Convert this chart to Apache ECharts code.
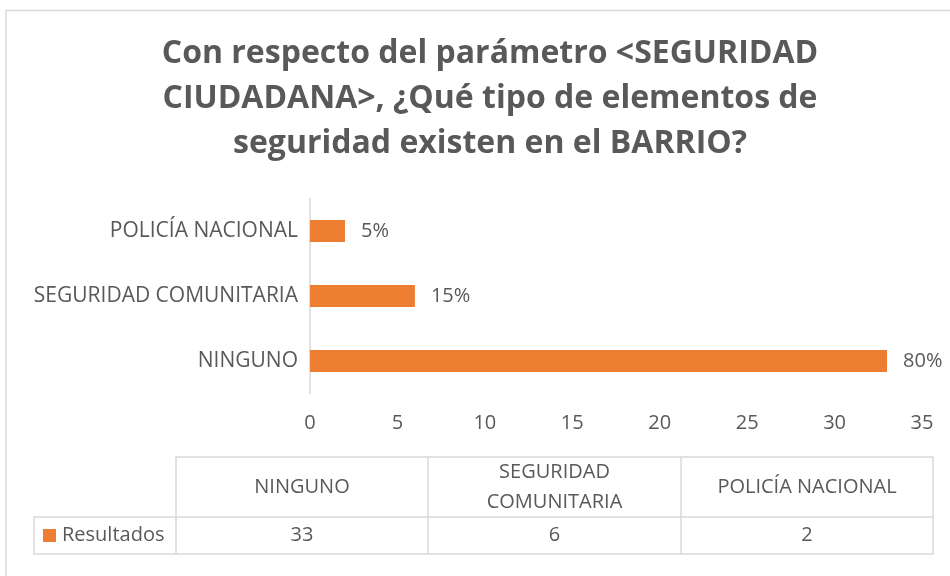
<!DOCTYPE html>
<html>
<head>
<meta charset="utf-8">
<script src="https://cdn.jsdelivr.net/npm/echarts@6/dist/echarts.min.js"></script>
<style>html,body{margin:0;padding:0;background:#fff}#c{width:950px;height:576px}</style>
</head>
<body>
<div id="c"></div>
<script>
const titleText = "Con respecto del parámetro <SEGURIDAD\nCIUDADANA>, ¿Qué tipo de elementos de\nseguridad existen en el BARRIO?";
const categories = ["NINGUNO", "SEGURIDAD COMUNITARIA", "POLICÍA NACIONAL"];
const tableHeaders = ["NINGUNO", "SEGURIDAD\nCOMUNITARIA", "POLICÍA NACIONAL"];
const seriesName = "Resultados";
const values = [33, 6, 2];
const xTicks = [0, 5, 10, 15, 20, 25, 30, 35];

const TXT = '#595959', BAR = '#ED7D31', LINE = '#D9D9D9';
const FONT = '"Open Sans", "Noto Sans", sans-serif';
const total = values.reduce((a, b) => a + b, 0);

// table layout
const colX = [176, 428, 681, 933];
const rowY = [457, 517, 554];
const legendLeft = 34;

const graphics = [];
// outer border
graphics.push({type: 'rect', shape: {x: 6, y: 10.5, width: 960, height: 600}, style: {fill: 'none', stroke: LINE, lineWidth: 1.5}, silent: true});
// title
graphics.push({type: 'text', x: 490, y: 31, style: {text: titleText, font: 'bold 32px ' + FONT, fill: TXT, align: 'center', verticalAlign: 'top', lineHeight: 45}});
// table lines
graphics.push({type: 'polyline', shape: {points: [[colX[0], rowY[2]], [colX[0], rowY[0]], [colX[3], rowY[0]], [colX[3], rowY[2]], [legendLeft, rowY[2]], [legendLeft, rowY[1]], [colX[3], rowY[1]]]}, style: {stroke: LINE, lineWidth: 1.5, fill: 'none'}});
for (let i = 1; i < 3; i++) {
  graphics.push({type: 'line', shape: {x1: colX[i], y1: rowY[0], x2: colX[i], y2: rowY[2]}, style: {stroke: LINE, lineWidth: 1.5}});
}
for (let i = 0; i < 3; i++) {
  const cx = (colX[i] + colX[i + 1]) / 2;
  graphics.push({type: 'text', x: cx, y: (rowY[0] + rowY[1]) / 2, style: {text: tableHeaders[i], font: '20px ' + FONT, fill: TXT, align: 'center', verticalAlign: 'middle', lineHeight: 30}});
  graphics.push({type: 'text', x: cx, y: (rowY[1] + rowY[2]) / 2, style: {text: String(values[i]), font: '20px ' + FONT, fill: TXT, align: 'center', verticalAlign: 'middle'}});
}
// legend key
graphics.push({type: 'rect', shape: {x: 43, y: 529, width: 13, height: 13}, style: {fill: BAR}});
graphics.push({type: 'text', x: 62, y: 535.5, style: {text: seriesName, font: '20px ' + FONT, fill: TXT, align: 'left', verticalAlign: 'middle'}});

const chart = echarts.init(document.getElementById('c'), null, {renderer: 'canvas'});
chart.setOption({
  animation: false,
  backgroundColor: '#fff',
  grid: {left: 310, right: 28, top: 198.5, height: 195, containLabel: false},
  xAxis: {
    type: 'value', min: xTicks[0], max: xTicks[xTicks.length - 1], interval: 5,
    axisLine: {show: false}, axisTick: {show: false}, splitLine: {show: false},
    axisLabel: {color: TXT, fontSize: 20, fontFamily: FONT, margin: 20}
  },
  yAxis: {
    type: 'category', data: categories,
    axisLine: {show: true, lineStyle: {color: LINE, width: 1.5}},
    axisTick: {show: false},
    axisLabel: {color: TXT, fontSize: 21, fontFamily: FONT, margin: 12}
  },
  series: [{
    type: 'bar', name: seriesName, data: values, barWidth: 22,
    itemStyle: {color: BAR},
    label: {show: true, position: 'right', distance: 16, color: TXT, fontSize: 20, fontFamily: FONT,
      formatter: p => Math.round(p.value / total * 100) + '%'}
  }],
  graphic: graphics
});
</script>
</body>
</html>
